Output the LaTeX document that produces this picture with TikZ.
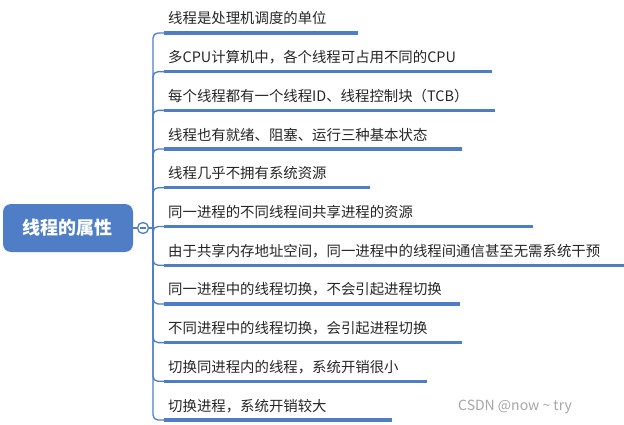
\documentclass[tikz,border=0pt]{standalone}
\usepackage{fontspec}
\setmainfont{Noto Sans CJK SC}
\definecolor{mblue}{HTML}{4F7EC6}
\begin{document}
\begin{tikzpicture}[x=1pt,y=-1pt,
  item/.style={anchor=base west,inner sep=0pt,font=\fontsize{14.4}{15}\selectfont,text=black!85},
  uline/.style={draw=mblue,line width=3.2pt},
  spine/.style={draw=mblue,line width=1.3pt}]
\useasboundingbox (0,0) rectangle (624,425);
\node[fill=mblue,rounded corners=8pt,minimum width=130pt,minimum height=48pt,inner sep=0pt,text=white,font=\bfseries\fontsize{18}{20}\selectfont] (root) at (68,228) {线程的属性};
\node[circle,draw=mblue,line width=1.3pt,fill=white,minimum size=11pt,inner sep=0pt] (tog) at (143,228) {};
\draw[mblue,line width=1.3pt] (140,228) -- (146,228);
\draw[spine] (root.east) -- (tog.west);
\coordinate (sp) at (153,228);
\draw[spine] (tog.east) -- (sp);
\foreach \i/\t/\e in {
 0/线程是处理机调度的单位/358,
 1/多CPU计算机中，各个线程可占用不同的CPU/492,
 2/每个线程都有一个线程ID、线程控制块（TCB）/495,
 3/线程也有就绪、阻塞、运行三种基本状态/462,
 4/线程几乎不拥有系统资源/370,
 5/同一进程的不同线程间共享进程的资源/533,
 6/由于共享内存地址空间，同一进程中的线程间通信甚至无需系统干预/624,
 7/同一进程中的线程切换，不会引起进程切换/460,
 8/不同进程中的线程切换，会引起进程切换/462,
 9/切换同进程内的线程，系统开销很小/427,
 10/切换进程，系统开销较大/392}{
  \pgfmathsetmacro\yy{33+\i*38.7}
  \node[item] (t\i) at (168,\yy-9) {\t};
  \coordinate (e\i) at (\e,\yy);
  \draw[spine,rounded corners=5pt] (sp) |- (166,\yy);
  \draw[uline] (164,\yy) -- (e\i);
}
\node[anchor=base west,inner sep=0pt,text=black!35,font=\fontsize{14}{15}\selectfont] (wm) at (458,410) {CSDN @now \textasciitilde{} try};
\end{tikzpicture}
\end{document}
